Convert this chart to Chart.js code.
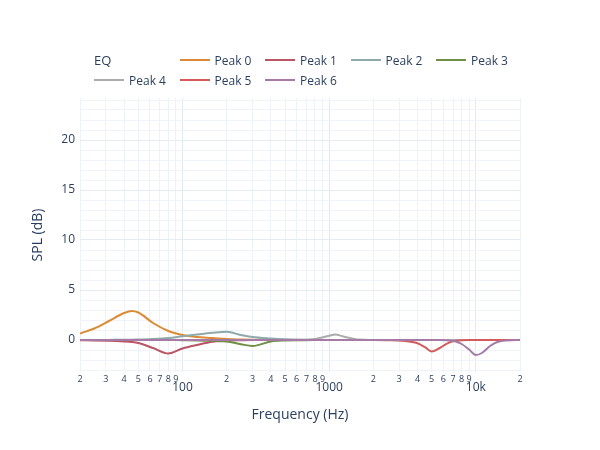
<!DOCTYPE html>
<html>
<head>
<meta charset="utf-8">
<script src="https://cdn.jsdelivr.net/npm/chart.js@4.4.1/dist/chart.umd.min.js"></script>
<style>
    body { margin: 0; background: #fff; }
    #wrap { position: relative; width: 600px; height: 450px; font-family: "Open Sans", sans-serif; color: #2a3f5f; }
    #legend {
        position: absolute; left: 94px; top: 50px;
        display: grid; grid-template-columns: repeat(5, 85.5px); grid-auto-rows: 20px;
        font-size: 12px;
    }
    #legend .title { display: flex; align-items: center; font-size: 13px; }
    #legend .item { display: flex; align-items: center; white-space: nowrap; }
    #legend .swatch { width: 30px; height: 2px; margin-right: 5px; }
</style>
</head>
<body>
<div id="wrap">
    <canvas id="eqChart"></canvas>
    <div id="legend"><div class="title">EQ</div></div>
</div>
<script>
// Frequencies (Hz) shared by all filter curves
const freqs = [20, 25, 31.5, 40, 45, 50, 63, 80, 100, 125, 160, 200, 250, 300, 400, 500, 630, 800,
    1000, 1100, 1250, 1600, 2000, 2500, 3150, 4000, 4500, 5000, 5600, 6300, 7100, 8000, 9000,
    10000, 11000, 12500, 14000, 16000, 20000];

// SPL (dB) per peak filter
const peak0 = [0.65, 1.15, 1.9, 2.7, 2.9, 2.75, 1.7, 0.9, 0.5, 0.3, 0.2, 0.1, 0.05, 0.02, 0, 0, 0, 0,
    0, 0, 0, 0, 0, 0, 0, 0, 0, 0, 0, 0, 0, 0, 0, 0, 0, 0, 0, 0, 0];
const peak1 = [-0.02, -0.04, -0.08, -0.15, -0.2, -0.3, -0.8, -1.35, -0.85, -0.5, -0.17, -0.08, -0.03, 0, 0, 0, 0, 0,
    0, 0, 0, 0, 0, 0, 0, 0, 0, 0, 0, 0, 0, 0, 0, 0, 0, 0, 0, 0, 0];
const peak2 = [0, 0, 0.01, 0.02, 0.03, 0.05, 0.1, 0.2, 0.38, 0.55, 0.72, 0.82, 0.5, 0.3, 0.15, 0.07, 0.03, 0.01,
    0, 0, 0, 0, 0, 0, 0, 0, 0, 0, 0, 0, 0, 0, 0, 0, 0, 0, 0, 0, 0];
const peak3 = [0, 0, 0, 0, 0, 0, 0, 0, -0.02, -0.04, -0.08, -0.15, -0.42, -0.6, -0.15, -0.05, -0.02, 0,
    0, 0, 0, 0, 0, 0, 0, 0, 0, 0, 0, 0, 0, 0, 0, 0, 0, 0, 0, 0, 0];
const peak4 = [0, 0, 0, 0, 0, 0, 0, 0, 0, 0, 0, 0, 0, 0, 0, 0.01, 0.02, 0.1,
    0.42, 0.55, 0.35, 0.04, 0.01, 0, 0, 0, 0, 0, 0, 0, 0, 0, 0, 0, 0, 0, 0, 0, 0];
const peak5 = [0, 0, 0, 0, 0, 0, 0, 0, 0, 0, 0, 0, 0, 0, 0, 0, 0, 0,
    0, 0, 0, 0, 0, -0.02, -0.08, -0.32, -0.72, -1.15, -0.85, -0.38, -0.1, -0.03, 0, 0, 0, 0, 0, 0, 0];
const peak6 = [0, 0, 0, 0, 0, 0, 0, 0, 0, 0, 0, 0, 0, 0, 0, 0, 0, 0,
    0, 0, 0, 0, 0, 0, 0, 0, 0, 0, 0, -0.03, -0.1, -0.4, -0.95, -1.5, -1.3, -0.6, -0.2, -0.04, 0];

const seriesNames = ['Peak 0', 'Peak 1', 'Peak 2', 'Peak 3', 'Peak 4', 'Peak 5', 'Peak 6'];
const seriesValues = [peak0, peak1, peak2, peak3, peak4, peak5, peak6];
const seriesColors = ['#db8b35', '#bb5463', '#8ea9aa', '#6f8f46', '#ababab', '#d45b5b', '#a57ba6'];

// Axis ticks
const xTicks = [20, 30, 40, 50, 60, 70, 80, 90, 100, 200, 300, 400, 500, 600, 700, 800, 900,
    1000, 2000, 3000, 4000, 5000, 6000, 7000, 8000, 9000, 10000, 20000];
const xTickLabels = ['2', '3', '4', '5', '6', '7', '8', '9', '100', '2', '3', '4', '5', '6', '7', '8', '9',
    '1000', '2', '3', '4', '5', '6', '7', '8', '9', '10k', '2'];
const xMajor = [100, 1000, 10000];
const yTicks = [-3, -2, -1, 0, 1, 2, 3, 4, 5, 6, 7, 8, 9, 10, 11, 12, 13, 14, 15, 16, 17, 18, 19, 20, 21, 22, 23, 24];

Chart.defaults.font.family = '"Open Sans", sans-serif';
Chart.defaults.color = '#2a3f5f';

// later traces sit on top, like the original
const datasets = seriesNames.map((name, s) => ({
    label: name,
    data: freqs.map((f, i) => ({ x: f, y: seriesValues[s][i] })),
    borderColor: seriesColors[s],
    backgroundColor: seriesColors[s],
    borderWidth: 2,
    pointRadius: 0,
    cubicInterpolationMode: 'monotone',
    order: seriesNames.length - 1 - s,
    fill: false
}));

new Chart(document.getElementById('eqChart'), {
    type: 'line',
    data: { datasets },
    options: {
        responsive: true,
        maintainAspectRatio: false,
        animation: false,
        layout: { padding: { top: 98, right: 80, left: 0, bottom: 0 } },
        plugins: { legend: { display: false }, tooltip: { enabled: false } },
        scales: {
            x: {
                type: 'logarithmic',
                min: 20,
                max: 20000,
                afterBuildTicks: (scale) => { scale.ticks = xTicks.map(v => ({ value: v })); },
                afterFit: (scale) => { scale.height = 78; },
                border: { display: false },
                grid: {
                    drawTicks: false,
                    color: (ctx) => (ctx.tick && xMajor.includes(ctx.tick.value)) ? '#e3e9f2' : '#edf1f8'
                },
                ticks: {
                    autoSkip: false,
                    maxRotation: 0,
                    padding: 2,
                    color: '#2a3f5f',
                    callback: (value, index) => xTickLabels[index],
                    font: (ctx) => (ctx.tick && xMajor.includes(ctx.tick.value))
                        ? { size: 12, lineHeight: 2.2 }
                        : { size: 9, lineHeight: 1.15 }
                },
                title: {
                    display: true,
                    text: 'Frequency (Hz)',
                    color: '#2a3f5f',
                    font: { size: 14 },
                    padding: { top: 0, bottom: 27 }
                }
            },
            y: {
                min: -3.2,
                max: 24.2,
                afterBuildTicks: (scale) => { scale.ticks = yTicks.map(v => ({ value: v })); },
                afterFit: (scale) => { scale.width = 80; },
                border: { display: false },
                grid: {
                    drawTicks: false,
                    color: (ctx) => (ctx.tick && ctx.tick.value % 5 === 0) ? '#e6ecf4' : '#f0f3f9',
                    lineWidth: (ctx) => (ctx.tick && ctx.tick.value === 0) ? 2 : 1
                },
                ticks: {
                    autoSkip: false,
                    padding: 5,
                    color: '#2a3f5f',
                    font: { size: 12 },
                    callback: (value) => (value % 5 === 0 ? String(value) : '')
                },
                title: {
                    display: true,
                    text: 'SPL (dB)',
                    color: '#2a3f5f',
                    font: { size: 14 },
                    padding: { top: 30, bottom: 0 }
                }
            }
        }
    }
});

// Legend (two rows, Plotly-like)
const legend = document.getElementById('legend');
seriesNames.forEach((name, s) => {
    const item = document.createElement('div');
    item.className = 'item';
    item.innerHTML = `<span class="swatch" style="background:${seriesColors[s]}"></span><span>${name}</span>`;
    legend.appendChild(item);
});
</script>
</body>
</html>
